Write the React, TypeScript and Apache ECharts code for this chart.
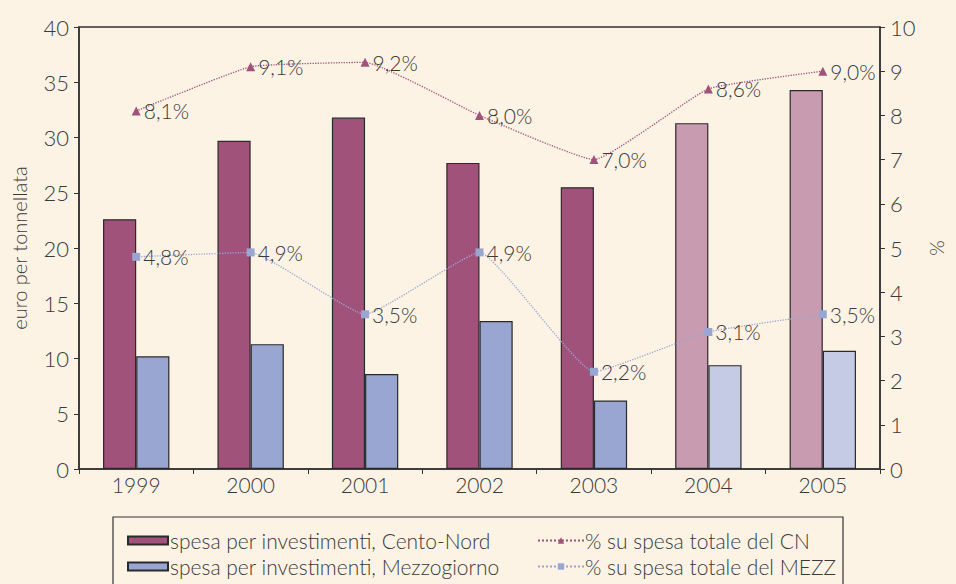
import React, { useEffect, useRef } from "react";
import * as echarts from "echarts";

const years = ["1999", "2000", "2001", "2002", "2003", "2004", "2005"];
const spesaCN = [22.6, 29.7, 31.8, 27.7, 25.5, 31.3, 34.3];
const spesaMEZZ = [10.2, 11.3, 8.6, 13.4, 6.2, 9.4, 10.7];
const pctCN = [8.1, 9.1, 9.2, 8.0, 7.0, 8.6, 9.0];
const pctMEZZ = [4.8, 4.9, 3.5, 4.9, 2.2, 3.1, 3.5];
const seriesNames = [
  "spesa per investimenti, Cento-Nord",
  "spesa per investimenti, Mezzogiorno",
  "% su spesa totale del CN",
  "% su spesa totale del MEZZ",
];
const lightFrom = 5; // 2004 onward drawn lighter

const CN = "#A0527A";
const CN_LIGHT = "#C99BB0";
const MZ = "#9AA6D2";
const MZ_LIGHT = "#C6CBE5";
const TXT = "#3a3a3a";
const FONT = "Lato, 'DejaVu Sans', sans-serif";
const FW = 300;

export default function App() {
  const ref = useRef<HTMLDivElement>(null);
  useEffect(() => {
    const chart = echarts.init(ref.current!, null, { renderer: "svg" });
    const fmt = (p: any) => String(Number(p.value).toFixed(1)).replace(".", ",") + "%";
    const lbl = { show: true, position: "right", distance: 3, formatter: fmt, color: TXT, fontSize: 21, fontFamily: FONT, fontWeight: FW };
    const legTxt = { color: TXT, fontSize: 21, fontFamily: FONT, fontWeight: FW };
    const leg = (name: string, left: number, top: number, bar: boolean) => ({
      data: [name], orient: "horizontal", left, top, padding: 0,
      itemWidth: bar ? 40 : 46, itemHeight: 8,
      ...(bar ? { icon: "rect" } : {}),
      textStyle: { ...legTxt, padding: [0, 0, 0, bar ? -3 : -4] },
    });
    chart.setOption({
      animation: false,
      backgroundColor: "#FDF3E5",
      textStyle: { fontFamily: FONT, color: TXT, fontWeight: FW },
      grid: { left: 79, right: 63, top: 27, bottom: 115, show: true, borderColor: "#333", borderWidth: 1.5, backgroundColor: "transparent" },
      xAxis: {
        type: "category",
        data: years,
        axisLine: { lineStyle: { color: "#333", width: 1.5 } },
        axisTick: { show: true, length: 5, lineStyle: { color: "#333" } },
        axisLabel: { color: TXT, fontSize: 21, fontFamily: FONT, fontWeight: FW, margin: 5 },
      },
      yAxis: [
        {
          type: "value", min: 0, max: 40, interval: 5,
          name: "euro per tonnellata", nameLocation: "middle", nameGap: 50,
          nameTextStyle: { color: TXT, fontSize: 20, fontFamily: FONT, fontWeight: FW },
          axisLine: { show: true, lineStyle: { color: "#333", width: 1.5 } },
          axisTick: { show: true, length: 5, lineStyle: { color: "#333" } },
          axisLabel: { color: TXT, fontSize: 22, fontFamily: FONT, fontWeight: FW, margin: 10 },
          splitLine: { show: false },
        },
        {
          type: "value", min: 0, max: 10, interval: 1, position: "right",
          name: "%", nameLocation: "middle", nameGap: 48, nameRotate: -90,
          nameTextStyle: { color: TXT, fontSize: 20, fontFamily: FONT, fontWeight: FW },
          axisLine: { show: true, lineStyle: { color: "#333", width: 1.5 } },
          axisTick: { show: true, length: 5, lineStyle: { color: "#333" } },
          axisLabel: { color: TXT, fontSize: 22, fontFamily: FONT, fontWeight: FW, margin: 10 },
          splitLine: { show: false },
        },
      ],
      legend: [
        leg(seriesNames[0], 127, 530, true),
        leg(seriesNames[1], 127, 556, true),
        leg(seriesNames[2], 537, 530, false),
        leg(seriesNames[3], 537, 556, false),
      ],
      graphic: [
        { type: "rect", shape: { x: 113, y: 517, width: 730, height: 80 }, style: { fill: "none", stroke: "#333", lineWidth: 1.2 }, z: -1 },
      ],
      series: [
        {
          name: seriesNames[0], type: "bar", barGap: "0%", barCategoryGap: "42%",
          itemStyle: { color: CN, borderColor: "#2a2a2a", borderWidth: 1.2 },
          data: spesaCN.map((v, i) => ({ value: v, itemStyle: { color: i >= lightFrom ? CN_LIGHT : CN } })),
        },
        {
          name: seriesNames[1], type: "bar",
          itemStyle: { color: MZ, borderColor: "#2a2a2a", borderWidth: 1.2 },
          data: spesaMEZZ.map((v, i) => ({ value: v, itemStyle: { color: i >= lightFrom ? MZ_LIGHT : MZ } })),
        },
        {
          name: seriesNames[2], type: "line", yAxisIndex: 1, data: pctCN, smooth: 0.12,
          symbol: "triangle", symbolSize: 9, itemStyle: { color: CN },
          lineStyle: { color: CN, type: "dotted", width: 1.3 },
          label: lbl,
          z: 5,
        },
        {
          name: seriesNames[3], type: "line", yAxisIndex: 1, data: pctMEZZ, smooth: 0.12,
          symbol: "rect", symbolSize: 8, itemStyle: { color: MZ },
          lineStyle: { color: MZ, type: "dotted", width: 1.3 },
          label: lbl,
          z: 5,
        },
      ],
    });
    return () => chart.dispose();
  }, []);
  return <div ref={ref} style={{ width: 956, height: 584, position: "absolute", left: 0, top: 0 }} />;
}
